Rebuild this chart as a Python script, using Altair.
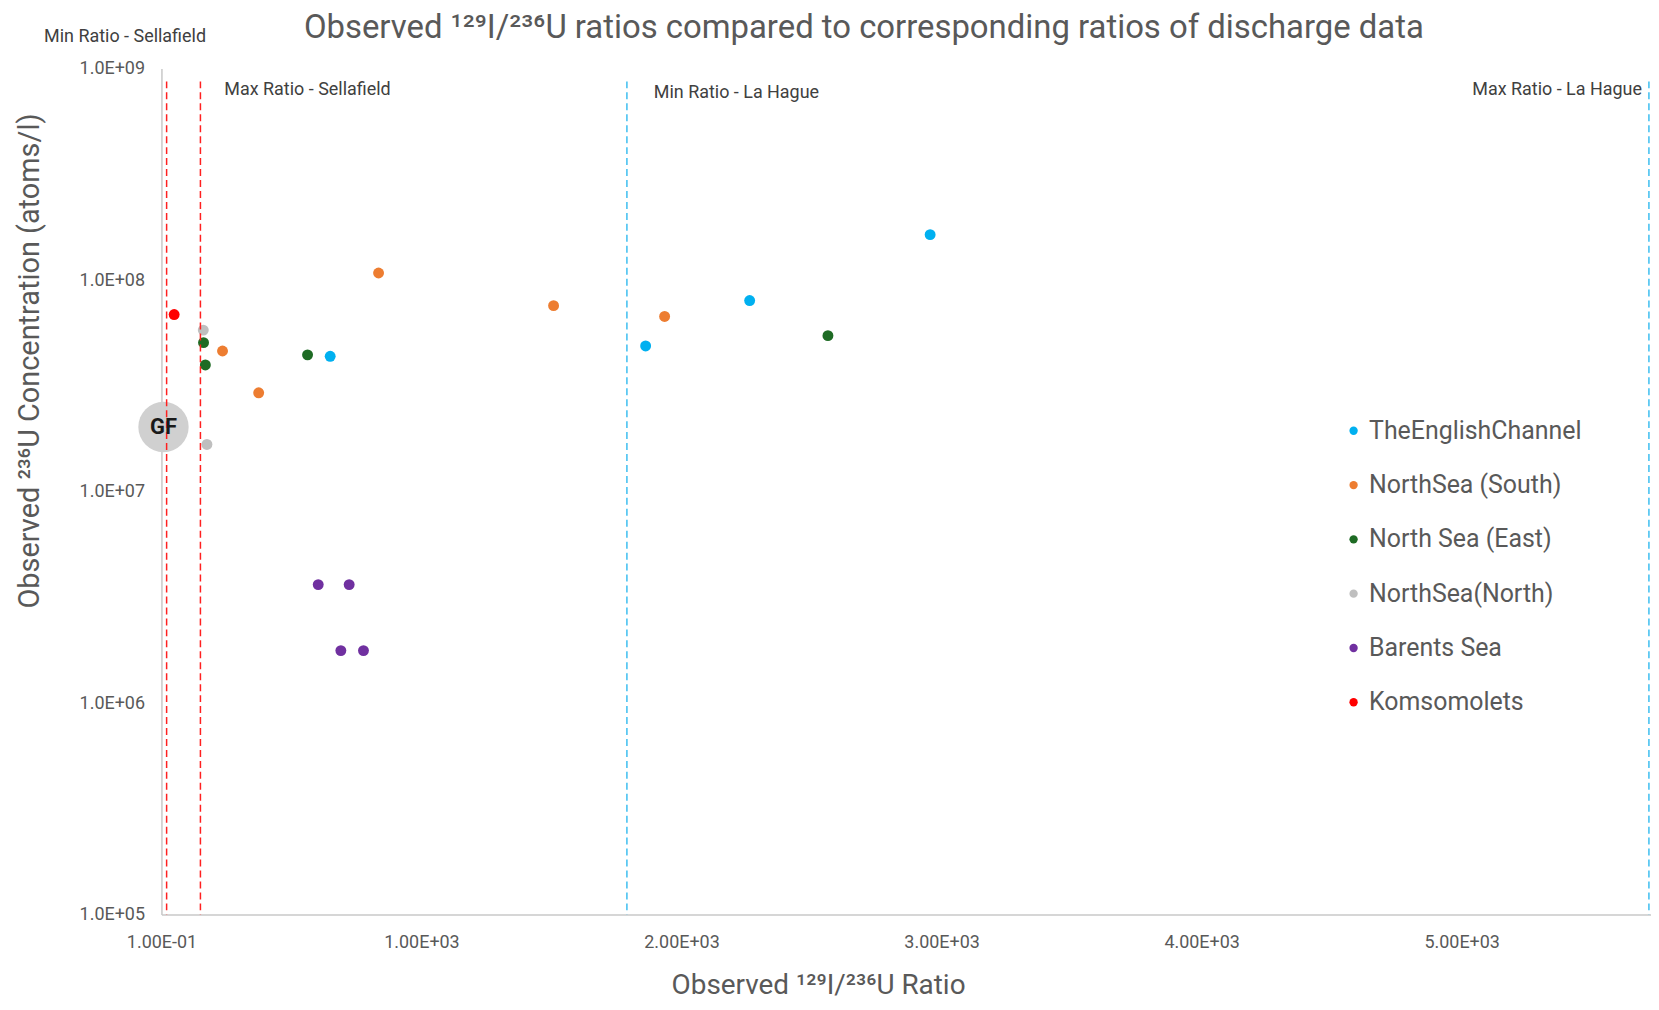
import altair as alt
import pandas as pd

# ---------------- data ----------------
series_names = ["TheEnglishChannel", "NorthSea (South)", "North Sea (East)",
                "NorthSea(North)", "Barents Sea", "Komsomolets"]
series_colors = ["#00B0F0", "#ED7D31", "#1E6B24", "#BFBFBF", "#7030A0", "#FF0000"]

english_ratio = [649, 1862, 2262, 2956]
english_conc = [4.36e7, 4.88e7, 8.0e7, 1.64e8]
ns_south_ratio = [235, 374, 835, 1508, 1935]
ns_south_conc = [4.62e7, 2.93e7, 1.08e8, 7.57e7, 6.73e7]
ns_east_ratio = [162, 169, 562, 2563]
ns_east_conc = [5.06e7, 3.97e7, 4.43e7, 5.46e7]
ns_north_ratio = [161, 175]
ns_north_conc = [5.8e7, 1.67e7]
barents_ratio = [603, 722, 690, 777]
barents_conc = [3.63e6, 3.63e6, 1.77e6, 1.77e6]
komso_ratio = [49]
komso_conc = [6.87e7]

ref_names = ["Min Ratio - Sellafield", "Max Ratio - Sellafield",
             "Min Ratio - La Hague", "Max Ratio - La Hague"]
ref_values = [20, 150, 1790, 5720]
ref_top = 8.7e8
ref_bottom = 1e5

gf_label = ["GF"]
gf_ratio = [8]
gf_conc = [2.02e7]

x_tick_values = [0.1, 1000, 2000, 3000, 4000, 5000]
x_tick_labels = ["1.00E-01", "1.00E+03", "2.00E+03", "3.00E+03", "4.00E+03", "5.00E+03"]
y_tick_values = [1e5, 1e6, 1e7, 1e8, 1e9]
y_tick_labels = ["1.0E+05", "1.0E+06", "1.0E+07", "1.0E+08", "1.0E+09"]

chart_title = "Observed ¹²⁹I/²³⁶U ratios compared to corresponding ratios of discharge data"
x_title = "Observed ¹²⁹I/²³⁶U Ratio"
y_title = "Observed ²³⁶U Concentration (atoms/l)"

# ---------------- build tables ----------------
rows = []
for name, rs, cs in [
    (series_names[0], english_ratio, english_conc),
    (series_names[1], ns_south_ratio, ns_south_conc),
    (series_names[2], ns_east_ratio, ns_east_conc),
    (series_names[3], ns_north_ratio, ns_north_conc),
    (series_names[4], barents_ratio, barents_conc),
    (series_names[5], komso_ratio, komso_conc),
]:
    for r, c in zip(rs, cs):
        rows.append({"series": name, "ratio": r, "conc": c})
points_df = pd.DataFrame(rows)


def label_expr(vals, labels):
    parts = [f"datum.value == {v} ? '{l}'" for v, l in zip(vals, labels)]
    return " : ".join(parts) + " : ''"


FONT = "Roboto"
GRAY = "#595959"

x_enc = alt.X(
    "ratio:Q",
    scale=alt.Scale(domain=[0.1, 5728], nice=False, zero=False),
    axis=alt.Axis(
        values=x_tick_values, labelExpr=label_expr(x_tick_values, x_tick_labels),
        title=x_title, grid=False, ticks=False, tickSize=0,
        domainColor="#C8C8C8", domainWidth=1.5,
        labelFont=FONT, labelFontSize=18, labelColor=GRAY, labelPadding=19,
        labelFlush=False, labelOverlap=False,
        titleFont=FONT, titleFontSize=28, titleColor=GRAY, titleFontWeight="normal",
        titleX=659, titleY=71, titleBaseline="middle", titleAlign="center",
    ),
)
y_enc = alt.Y(
    "conc:Q",
    scale=alt.Scale(type="log", domain=[1e5, 1e9], nice=False),
    axis=alt.Axis(
        values=y_tick_values, labelExpr=label_expr(y_tick_values, y_tick_labels),
        title=y_title, grid=False, ticks=False, tickSize=0,
        domainColor="#C8C8C8", domainWidth=1.5,
        labelFont=FONT, labelFontSize=18, labelColor=GRAY, labelPadding=17,
        labelFlush=False, labelOverlap=False,
        titleFont=FONT, titleFontSize=29, titleColor=GRAY, titleFontWeight="normal",
        titleX=-132, titleY=293, titleAngle=270, titleBaseline="middle", titleAlign="center",
    ),
)

points = alt.Chart(points_df).mark_circle(size=120, opacity=1).encode(
    x=x_enc, y=y_enc,
    color=alt.Color(
        "series:N",
        scale=alt.Scale(domain=series_names, range=series_colors),
        legend=alt.Legend(
            title=None, orient="none", legendX=1184, legendY=351,
            symbolType="circle", symbolSize=70, symbolStrokeWidth=0, symbolOpacity=1,
            labelFont=FONT, labelFontSize=25, labelColor=GRAY, labelLimit=0,
            rowPadding=28.5, labelOffset=3, padding=0,
        ),
    ),
)

gf_df = pd.DataFrame({"ratio": gf_ratio, "conc": gf_conc, "label": gf_label})
gf_circle = alt.Chart(gf_df).mark_circle(size=2550, color="#D0D0D0", opacity=1).encode(
    x=x_enc, y=y_enc
)
gf_text = alt.Chart(gf_df).mark_text(
    font=FONT, fontSize=22, fontWeight="bold", color="#1A1A1A", baseline="middle"
).encode(x=x_enc, y=y_enc, text="label:N")

ref_colors = ["#FF2020", "#FF2020", "#3DBEF0", "#3DBEF0"]
ref_label_dx = [-123, 24, 27, -7]
ref_label_align = ["left", "left", "left", "right"]
ref_label_y = [-32, 22, 25, 22]

layers = [points, gf_circle]
for name, val, col, dx, al, ly in zip(ref_names, ref_values, ref_colors,
                                      ref_label_dx, ref_label_align, ref_label_y):
    rdf = pd.DataFrame({"ratio": [val], "conc": [ref_top], "conc_end": [ref_bottom],
                        "label": [name]})
    layers.append(
        alt.Chart(rdf).mark_rule(strokeDash=[7, 4], strokeWidth=1.5, color=col).encode(
            x=x_enc, y=y_enc, y2=alt.Y2("conc_end:Q")
        )
    )
    layers.append(
        alt.Chart(rdf).mark_text(
            font=FONT, fontSize=18, color="#404040", align=al, baseline="middle", dx=dx
        ).encode(x=x_enc, y=alt.value(ly), text="label:N")
    )

layers.append(gf_text)

title_df = pd.DataFrame({"t": [chart_title]})
title_mark = alt.Chart(title_df).mark_text(
    font=FONT, fontSize=33, color=GRAY, align="center", baseline="middle"
).encode(x=alt.value(705), y=alt.value(-41), text="t:N")
layers.append(title_mark)

chart = alt.layer(*layers).properties(
    width=1495, height=849,
    autosize=alt.AutoSizeParams(type="none"),
    padding={"left": 154, "top": 59, "right": 0, "bottom": 86},
    background="white",
).configure_view(strokeWidth=0)

chart.save("out.html", embed_options={"renderer": "svg", "actions": False})
